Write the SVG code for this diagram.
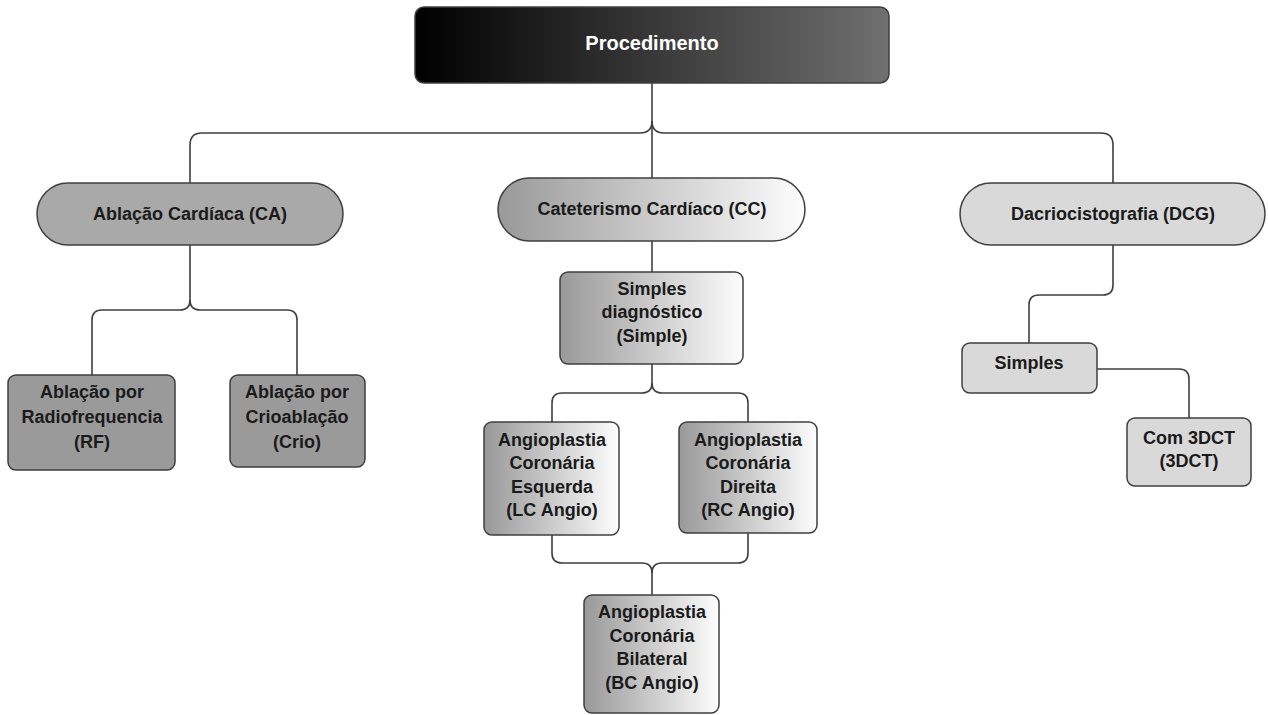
<svg xmlns="http://www.w3.org/2000/svg" width="1268" height="715" viewBox="0 0 1268 715">
<defs>
<linearGradient id="gTop" x1="0" y1="0" x2="1" y2="0"><stop offset="0" stop-color="#000"/><stop offset="1" stop-color="#707070"/></linearGradient>
<linearGradient id="gMid" x1="0" y1="0" x2="1" y2="0"><stop offset="0" stop-color="#999"/><stop offset="1" stop-color="#fdfdfd"/></linearGradient>
<style>
.n{stroke:#3f3f3f;stroke-width:1.5}
.t{font-family:"Liberation Sans",Arial,sans-serif;font-weight:bold;font-size:18px;fill:#1a1a1a;text-anchor:middle}
.c{fill:none;stroke:#3f3f3f;stroke-width:1.6}
.dark{fill:#9a9a9a}
.mid{fill:#a9a9a9}
.light{fill:#d9d9d9}
.gr{fill:url(#gMid)}
</style>
</defs>
<g id="connectors">
<path class="c" d="M652,83 V178"/>
<path class="c" d="M190,183 V145 Q190,133 202,133 H640 Q652,133 652,121"/>
<path class="c" d="M652,121 Q652,133 664,133 H1101 Q1113,133 1113,145 V183"/>
<path class="c" d="M190,245 V300 Q190,310 180,310 H102 Q92,310 92,320 V375"/>
<path class="c" d="M190,300 Q190,310 200,310 H287 Q297,310 297,320 V375"/>
<path class="c" d="M652,241 V272"/>
<path class="c" d="M652,364 V383 Q652,393 642,393 H562 Q552,393 552,403 V422"/>
<path class="c" d="M652,383 Q652,393 662,393 H738 Q748,393 748,403 V422"/>
<path class="c" d="M552,535 V553 Q552,563 562,563 H642 Q652,563 652,573 V595"/>
<path class="c" d="M748,533 V553 Q748,563 738,563 H662 Q652,563 652,573"/>
<path class="c" d="M1113,245 V285 Q1113,295 1103,295 H1039 Q1029,295 1029,305 V343"/>
<path class="c" d="M1097,369 H1179 Q1189,369 1189,379 V418"/>
</g>
<g id="procedimento">
<rect class="n" x="415" y="7" width="474" height="76" rx="9" fill="url(#gTop)" stroke="none"/>
<text class="t" x="652" y="50" style="fill:#fff;font-size:20px">Procedimento</text>
</g>
<g id="ca">
<rect class="n mid" x="37" y="183" width="306" height="62" rx="31"/>
<text class="t" x="190" y="219.5">Ablação Cardíaca (CA)</text>
</g>
<g id="cc">
<rect class="n gr" x="498" y="178" width="307" height="63" rx="31.5"/>
<text class="t" x="652" y="215">Cateterismo Cardíaco (CC)</text>
</g>
<g id="dcg">
<rect class="n light" x="960" y="183" width="305" height="62" rx="31"/>
<text class="t" x="1113" y="219.5">Dacriocistografia (DCG)</text>
</g>
<g id="rf">
<rect class="n dark" x="8" y="375" width="167" height="95" rx="8"/>
<text class="t" x="92" y="398">Ablação por</text>
<text class="t" x="92" y="423">Radiofrequencia</text>
<text class="t" x="92" y="448">(RF)</text>
</g>
<g id="crio">
<rect class="n dark" x="230" y="375" width="135" height="92" rx="8"/>
<text class="t" x="297" y="398">Ablação por</text>
<text class="t" x="297" y="423">Crioablação</text>
<text class="t" x="297" y="448">(Crio)</text>
</g>
<g id="simple">
<rect class="n gr" x="560" y="272" width="183" height="92" rx="8"/>
<text class="t" x="652" y="294.5">Simples</text>
<text class="t" x="652" y="318">diagnóstico</text>
<text class="t" x="652" y="341.5">(Simple)</text>
</g>
<g id="lc">
<rect class="n gr" x="484" y="422" width="135" height="113" rx="8"/>
<text class="t" x="552" y="445.5">Angioplastia</text>
<text class="t" x="552" y="469">Coronária</text>
<text class="t" x="552" y="492.5">Esquerda</text>
<text class="t" x="552" y="516">(LC Angio)</text>
</g>
<g id="rc">
<rect class="n gr" x="679" y="422" width="138" height="111" rx="8"/>
<text class="t" x="748" y="445.5">Angioplastia</text>
<text class="t" x="748" y="469">Coronária</text>
<text class="t" x="748" y="492.5">Direita</text>
<text class="t" x="748" y="516">(RC Angio)</text>
</g>
<g id="bc">
<rect class="n gr" x="584" y="595" width="135" height="118" rx="8"/>
<text class="t" x="652" y="618">Angioplastia</text>
<text class="t" x="652" y="641.5">Coronária</text>
<text class="t" x="652" y="665">Bilateral</text>
<text class="t" x="652" y="688.5">(BC Angio)</text>
</g>
<g id="simples">
<rect class="n light" x="962" y="343" width="135" height="50" rx="8"/>
<text class="t" x="1029" y="368.5">Simples</text>
</g>
<g id="com3dct">
<rect class="n light" x="1127" y="418" width="124" height="68" rx="8"/>
<text class="t" x="1189" y="443.5">Com 3DCT</text>
<text class="t" x="1189" y="467">(3DCT)</text>
</g>
</svg>
